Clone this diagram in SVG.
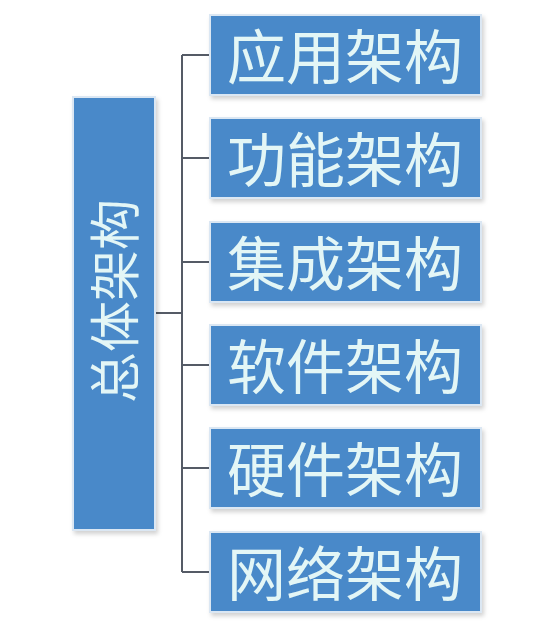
<svg xmlns="http://www.w3.org/2000/svg" width="541" height="625" viewBox="0 0 541 625">
<style>
.box{fill:#4a89c9;stroke:#dbe7f3;stroke-width:2}
.t{font-family:"Noto Sans CJK SC","Noto Sans",sans-serif;font-size:59px;fill:#e3f6f6;text-anchor:middle;dominant-baseline:central}
.v{font-size:51px}
.c{stroke:#555b66;stroke-width:2;fill:none}
</style>
<defs><filter id="sh" x="-10%" y="-10%" width="130%" height="130%"><feDropShadow dx="2" dy="3" stdDeviation="2" flood-color="#000" flood-opacity="0.18"/></filter></defs>
<g id="connectors">
<path class="c" d="M155 313H182M182 55V572M182 55H210M182 158H210M182 262H210M182 365H210M182 468H210M182 572H210"/>
</g>
<g id="root"><rect class="box" x="73" y="97" width="82" height="433" filter="url(#sh)"/><text class="t v" transform="translate(112 301) rotate(-90)">总体架构</text></g>
<g id="n1"><rect class="box" x="210" y="15" width="271" height="80" filter="url(#sh)"/><text class="t" x="345" y="53">应用架构</text></g>
<g id="n2"><rect class="box" x="210" y="118" width="271" height="80" filter="url(#sh)"/><text class="t" x="345" y="156">功能架构</text></g>
<g id="n3"><rect class="box" x="210" y="222" width="271" height="80" filter="url(#sh)"/><text class="t" x="345" y="260">集成架构</text></g>
<g id="n4"><rect class="box" x="210" y="325" width="271" height="80" filter="url(#sh)"/><text class="t" x="345" y="363">软件架构</text></g>
<g id="n5"><rect class="box" x="210" y="428" width="271" height="80" filter="url(#sh)"/><text class="t" x="345" y="466">硬件架构</text></g>
<g id="n6"><rect class="box" x="210" y="532" width="271" height="80" filter="url(#sh)"/><text class="t" x="345" y="570">网络架构</text></g>
</svg>
